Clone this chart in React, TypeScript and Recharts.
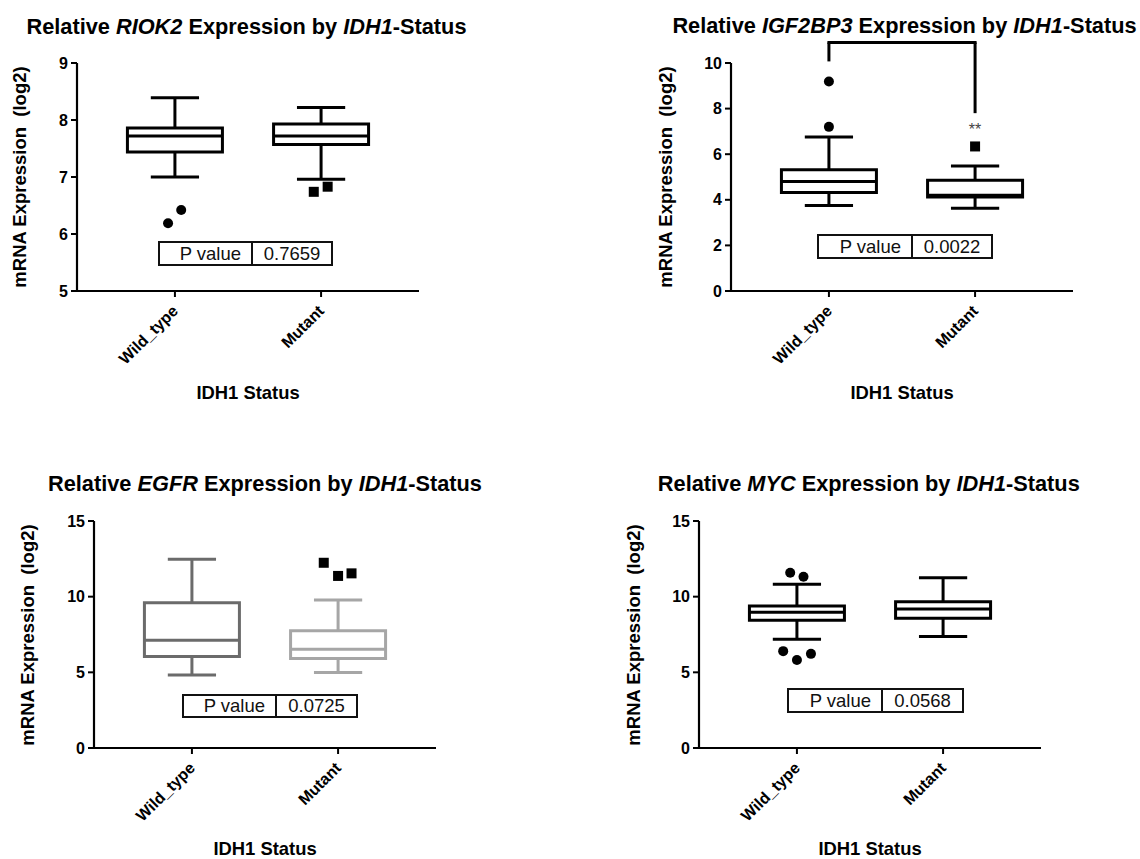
import React from 'react'
import { ComposedChart, XAxis, YAxis, Scatter, ReferenceArea, ReferenceLine, ReferenceDot } from 'recharts'

const FONT = '"Liberation Sans", Arial, Helvetica, sans-serif'

const groups = ['Wild_type', 'Mutant']

// box summaries: [lower whisker, Q1, median, Q3, upper whisker]
const riok2Wild = [7.0, 7.44, 7.72, 7.86, 8.39]
const riok2Mutant = [6.96, 7.57, 7.72, 7.93, 8.22]
const riok2WildOut = [6.19, 6.42]
const riok2MutantOut = [6.74, 6.83]

const igfWild = [3.75, 4.32, 4.8, 5.32, 6.75]
const igfMutant = [3.63, 4.12, 4.2, 4.86, 5.48]
const igfWildOut = [9.19, 7.2]
const igfMutantOut = [6.34]

const egfrWild = [4.83, 6.04, 7.12, 9.6, 12.47]
const egfrMutant = [4.99, 5.91, 6.53, 7.74, 9.78]
const egfrWildOut: number[] = []
const egfrMutantOut = [12.24, 11.37, 11.54]

const mycWild = [7.19, 8.44, 8.97, 9.39, 10.82]
const mycMutant = [7.36, 8.58, 9.19, 9.67, 11.25]
const mycWildOut = [11.58, 11.32, 6.4, 5.82, 6.22]
const mycMutantOut: number[] = []

// horizontal spread of the outlier symbols (Prism jitter), in category units
const riok2Jitter = [[-0.047, 0.043], [-0.05, 0.045]]
const igfJitter = [[0, 0], [0]]
const egfrJitter = [[], [-0.098, 0, 0.092]]
const mycJitter = [[-0.046, 0.045, -0.094, 0, 0.096], []]

const pValues = ['0.7659', '0.0022', '0.0725', '0.0568']

// IGF2BP3 significance bracket: left end, top, right end
const igfBracket = [10.07, 10.9, 7.8]
const igfStarsY = 7.22

const BOX = 0.325
const CAP = 0.165
const PLOT_W = 342

type Panel = {
  gene: string
  plotX: number
  plotY: number
  plotH: number
  yDomain: [number, number]
  yTicks: number[]
  boxes: number[][]
  outliers: number[][]
  jitter: number[][]
  colors: string[]
  pValue: string
  table: { x: number; y: number; w: number; h: number; split: number }
  titleX: number
  titleY: number
  yLabelX: number
  xLabelY: number
  bracket?: boolean
}

const panels: Panel[] = [
  {
    gene: 'RIOK2', plotX: 77, plotY: 63, plotH: 228, yDomain: [5, 9], yTicks: [5, 6, 7, 8, 9],
    boxes: [riok2Wild, riok2Mutant], outliers: [riok2WildOut, riok2MutantOut], jitter: riok2Jitter,
    colors: ['#000', '#000'], pValue: pValues[0],
    table: { x: 158, y: 241, w: 175, h: 25, split: 95 },
    titleX: 246.5, titleY: 26.3, yLabelX: 20, xLabelY: 393.3,
  },
  {
    gene: 'IGF2BP3', plotX: 731, plotY: 63, plotH: 228, yDomain: [0, 10], yTicks: [0, 2, 4, 6, 8, 10],
    boxes: [igfWild, igfMutant], outliers: [igfWildOut, igfMutantOut], jitter: igfJitter,
    colors: ['#000', '#000'], pValue: pValues[1],
    table: { x: 817, y: 234, w: 176, h: 25, split: 96 },
    titleX: 904.5, titleY: 26, yLabelX: 665.5, xLabelY: 393.3, bracket: true,
  },
  {
    gene: 'EGFR', plotX: 94, plotY: 521, plotH: 227, yDomain: [0, 15], yTicks: [0, 5, 10, 15],
    boxes: [egfrWild, egfrMutant], outliers: [egfrWildOut, egfrMutantOut], jitter: egfrJitter,
    colors: ['#6b6b6b', '#a6a6a6'], pValue: pValues[2],
    table: { x: 182, y: 694, w: 176, h: 24, split: 95 },
    titleX: 265, titleY: 483.3, yLabelX: 28.3, xLabelY: 849,
  },
  {
    gene: 'MYC', plotX: 699, plotY: 521, plotH: 227, yDomain: [0, 15], yTicks: [0, 5, 10, 15],
    boxes: [mycWild, mycMutant], outliers: [mycWildOut, mycMutantOut], jitter: mycJitter,
    colors: ['#000', '#000'], pValue: pValues[3],
    table: { x: 787, y: 688, w: 177, h: 25, split: 96 },
    titleX: 868.8, titleY: 483.3, yLabelX: 634, xLabelY: 849,
  },
]

const RotTick = (props: any) => {
  const { x, y, payload } = props
  const ax = x + 4
  const ay = y + 13
  return (
    <text
      x={ax}
      y={ay}
      transform={`rotate(-45 ${ax} ${ay})`}
      textAnchor="end"
      fontSize={16}
      fontWeight={700}
      fontFamily={FONT}
      fill="#000"
    >
      {groups[payload.value]}
    </text>
  )
}

const Circle = (props: any) => <circle cx={props.cx} cy={props.cy} r={5} fill="#000" />
const Square = (props: any) => <rect x={props.cx - 5} y={props.cy - 5} width={10} height={10} fill="#000" />
const Stars = (props: any) => (
  <text x={props.cx} y={props.cy + 9} textAnchor="middle" fontSize={16} fontFamily={FONT} fill="#444">
    **
  </text>
)

function BoxPanel({ p }: { p: Panel }) {
  const W = 50 + PLOT_W + 30
  const H = 30 + p.plotH + 80 + 10
  const axisStyle = { stroke: '#000', strokeWidth: 2.2 }

  const marks = p.boxes.flatMap((b, g) => {
    const c = p.colors[g]
    return [
      <ReferenceLine key={`wu${g}`} segment={[{ x: g, y: b[3] }, { x: g, y: b[4] }]} stroke={c} strokeWidth={3} />,
      <ReferenceLine key={`wl${g}`} segment={[{ x: g, y: b[0] }, { x: g, y: b[1] }]} stroke={c} strokeWidth={3} />,
      <ReferenceLine key={`cu${g}`} segment={[{ x: g - CAP, y: b[4] }, { x: g + CAP, y: b[4] }]} stroke={c} strokeWidth={3} />,
      <ReferenceLine key={`cl${g}`} segment={[{ x: g - CAP, y: b[0] }, { x: g + CAP, y: b[0] }]} stroke={c} strokeWidth={3} />,
      <ReferenceArea key={`bx${g}`} x1={g - BOX} x2={g + BOX} y1={b[1]} y2={b[3]} fill="none" stroke={c} strokeWidth={3} />,
      <ReferenceLine key={`md${g}`} segment={[{ x: g - BOX, y: b[2] }, { x: g + BOX, y: b[2] }]} stroke={c} strokeWidth={3} />,
    ]
  })

  const pts = p.outliers.map((vals, g) => vals.map((v, i) => ({ x: g + p.jitter[g][i], y: v })))

  const t = p.table
  const cx = p.plotX + PLOT_W / 2

  return (
    <>
      <div style={{ position: 'absolute', left: p.plotX - 50, top: p.plotY - 30 }}>
        <ComposedChart width={W} height={H} margin={{ top: 30, right: 30, bottom: 10, left: 0 }}>
          <XAxis
            type="number"
            dataKey="x"
            domain={[-0.67, 1.67]}
            ticks={[0, 1]}
            allowDataOverflow
            interval={0}
            height={80}
            tickSize={6}
            axisLine={axisStyle}
            tickLine={{ stroke: '#000', strokeWidth: 2 }}
            tick={<RotTick />}
          />
          <YAxis
            type="number"
            dataKey="y"
            domain={p.yDomain}
            ticks={p.yTicks}
            allowDataOverflow
            interval={0}
            width={50}
            tickSize={6}
            tickMargin={3}
            axisLine={axisStyle}
            tickLine={{ stroke: '#000', strokeWidth: 2 }}
            tick={{ fill: '#000', fontSize: 16, fontWeight: 700, fontFamily: FONT }}
          />
          {marks}
          {p.bracket && [
            <ReferenceLine key="b1" segment={[{ x: 0, y: igfBracket[0] }, { x: 0, y: igfBracket[1] }]} stroke="#000" strokeWidth={3} ifOverflow="visible" />,
            <ReferenceLine key="b2" segment={[{ x: 0, y: igfBracket[1] }, { x: 1, y: igfBracket[1] }]} stroke="#000" strokeWidth={3} strokeLinecap="square" ifOverflow="visible" />,
            <ReferenceLine key="b3" segment={[{ x: 1, y: igfBracket[1] }, { x: 1, y: igfBracket[2] }]} stroke="#000" strokeWidth={3} ifOverflow="visible" />,
            <ReferenceDot key="st" x={1} y={igfStarsY} r={1} shape={<Stars />} />,
          ]}
          <Scatter data={pts[0]} shape={<Circle />} isAnimationActive={false} />
          <Scatter data={pts[1]} shape={<Square />} isAnimationActive={false} />
        </ComposedChart>
      </div>

      <div
        style={{
          position: 'absolute', left: p.titleX - 300, width: 600, top: p.titleY - 0.49 * 21.75,
          textAlign: 'center', fontFamily: FONT, fontWeight: 700, fontSize: 21.75, lineHeight: '21.75px',
          whiteSpace: 'nowrap', color: '#000',
        }}
      >
        Relative <i>{p.gene}</i> Expression by <i>IDH1</i>-Status
      </div>

      <div
        style={{
          position: 'absolute', left: p.yLabelX, top: p.plotY + p.plotH / 2,
          transform: 'translate(-50%, -50%) rotate(-90deg)', fontFamily: FONT, fontWeight: 700,
          fontSize: 18.5, lineHeight: '18.5px', whiteSpace: 'pre', color: '#000',
        }}
      >
        {'mRNA Expression  (log2)'}
      </div>

      <div
        style={{
          position: 'absolute', left: cx - 100, width: 200, top: p.xLabelY - 0.49 * 18.4,
          textAlign: 'center', fontFamily: FONT, fontWeight: 700, fontSize: 18.4, lineHeight: '18.4px',
          color: '#000',
        }}
      >
        IDH1 Status
      </div>

      <div
        style={{
          position: 'absolute', left: t.x, top: t.y, width: t.w, height: t.h, boxSizing: 'border-box',
          border: '2px solid #111', display: 'flex', fontFamily: FONT, fontSize: 18.5, color: '#111',
          background: '#fff', lineHeight: `${t.h - 4}px`,
        }}
      >
        <div style={{ width: t.split - 2, borderRight: '2px solid #111', textAlign: 'right', paddingRight: 10, boxSizing: 'border-box' }}>
          P value
        </div>
        <div style={{ flex: 1, textAlign: 'center' }}>{p.pValue}</div>
      </div>
    </>
  )
}

export default function App() {
  return (
    <div style={{ position: 'absolute', left: 0, top: 0, width: 1140, height: 859, background: '#fff', overflow: 'hidden' }}>
      {panels.map((p) => (
        <BoxPanel key={p.gene} p={p} />
      ))}
    </div>
  )
}
